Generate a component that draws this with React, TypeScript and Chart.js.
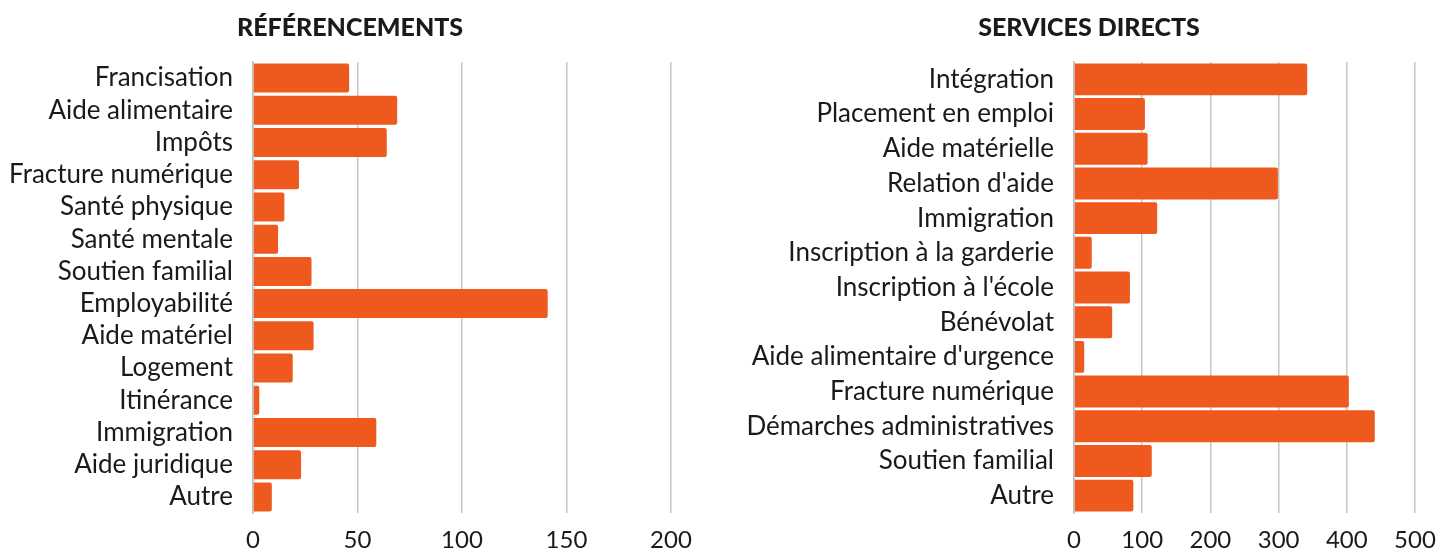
import React, { useEffect, useRef } from "react";
import { Chart, registerables } from "chart.js";

Chart.register(...registerables);

const refTitle = "RÉFÉRENCEMENTS";
const refLabels = [
  "Francisation",
  "Aide alimentaire",
  "Impôts",
  "Fracture numérique",
  "Santé physique",
  "Santé mentale",
  "Soutien familial",
  "Employabilité",
  "Aide matériel",
  "Logement",
  "Itinérance",
  "Immigration",
  "Aide juridique",
  "Autre",
];
const refValues = [46, 69, 64, 22, 15, 12, 28, 141, 29, 19, 3, 59, 23, 9];
const refTicks = [0, 50, 100, 150, 200];

const svcTitle = "SERVICES DIRECTS";
const svcLabels = [
  "Intégration",
  "Placement en emploi",
  "Aide matérielle",
  "Relation d'aide",
  "Immigration",
  "Inscription à la garderie",
  "Inscription à l'école",
  "Bénévolat",
  "Aide alimentaire d'urgence",
  "Fracture numérique",
  "Démarches administratives",
  "Soutien familial",
  "Autre",
];
const svcValues = [342, 104, 108, 299, 122, 26, 82, 56, 15, 403, 441, 114, 87];
const svcTicks = [0, 100, 200, 300, 400, 500];

const FONT = "Lato, 'Open Sans', sans-serif";
const BAR = "#EE5A1E";

function BarPanel(props: {
  title: string;
  labels: string[];
  values: number[];
  ticks: number[];
  yWidth: number;
  rightPad: number;
  catPct: number;
}) {
  const ref = useRef<HTMLCanvasElement | null>(null);
  useEffect(() => {
    if (!ref.current) return;
    const max = props.ticks[props.ticks.length - 1];
    const step = props.ticks[1] - props.ticks[0];
    const chart = new Chart(ref.current, {
      type: "bar",
      data: {
        labels: props.labels,
        datasets: [
          {
            data: props.values,
            backgroundColor: BAR,
            borderRadius: 2,
            borderSkipped: "start",
            barPercentage: 1,
            categoryPercentage: props.catPct,
          },
        ],
      },
      options: {
        indexAxis: "y",
        animation: false,
        responsive: true,
        maintainAspectRatio: false,
        layout: { padding: 0 },
        plugins: {
          legend: { display: false },
          tooltip: { enabled: false },
          title: {
            display: true,
            text: props.title,
            color: "#1a1a1a",
            font: { family: FONT, size: 25, weight: "900", lineHeight: 1.2 },
            padding: { top: 13, bottom: 19 },
          },
        },
        scales: {
          x: {
            min: 0,
            max: max,
            ticks: {
              stepSize: step,
              color: "#1a1a1a",
              padding: 13,
              font: { family: FONT, size: 24 },
            },
            grid: { color: "#c6c6c6", lineWidth: 1.5, drawTicks: false },
            border: { display: false },
            afterFit: (s: any) => {
              s.height = 37;
              s.paddingLeft = 0;
              s.paddingRight = props.rightPad;
            },
          },
          y: {
            ticks: {
              color: "#1a1a1a",
              padding: 20,
              autoSkip: false,
              font: { family: FONT, size: 26 },
            },
            grid: { display: false, drawTicks: false },
            border: { display: true, color: "#bdbdbd", width: 1.5 },
            afterFit: (s: any) => {
              s.width = props.yWidth;
              s.paddingTop = 0;
              s.paddingBottom = 0;
            },
          },
        },
      },
    });
    return () => chart.destroy();
  }, []);
  return <canvas ref={ref} />;
}

export default function App() {
  useEffect(() => {
    document.body.style.margin = "0";
    document.body.style.background = "#ffffff";
  }, []);
  return (
    <div style={{ position: "absolute", left: 0, top: 0, width: 1437, height: 550, background: "#fff" }}>
      <div style={{ position: "absolute", left: 0, top: 0, width: 700, height: 550 }}>
        <BarPanel
          title={refTitle}
          labels={refLabels}
          values={refValues}
          ticks={refTicks}
          yWidth={253}
          rightPad={29}
          catPct={0.9}
        />
      </div>
      <div style={{ position: "absolute", left: 741, top: 0, width: 696, height: 550 }}>
        <BarPanel
          title={svcTitle}
          labels={svcLabels}
          values={svcValues}
          ticks={svcTicks}
          yWidth={333}
          rightPad={22}
          catPct={0.92}
        />
      </div>
    </div>
  );
}
